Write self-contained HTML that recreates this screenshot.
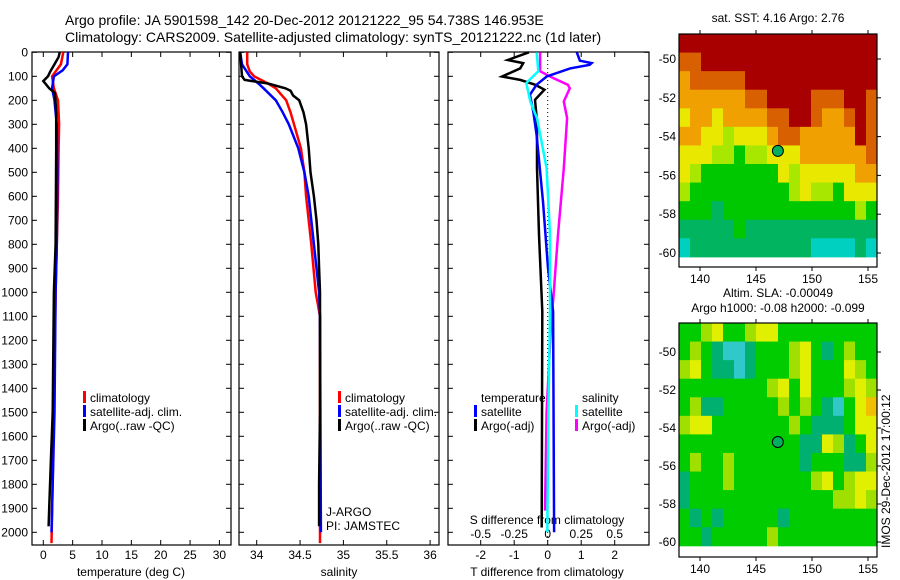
<!DOCTYPE html>
<html><head><meta charset="utf-8"><style>
body{margin:0;background:#fff}
svg{display:block;font-family:"Liberation Sans",sans-serif}
</style></head><body>
<svg id="c" width="900" height="580" viewBox="0 0 900 580">
<text x="65" y="25" font-size="14">Argo profile: JA 5901598_142 20-Dec-2012 20121222_95 54.738S 146.953E</text>
<text x="65" y="42" font-size="14">Climatology: CARS2009. Satellite-adjusted climatology: synTS_20121222.nc (1d later)</text>
</svg>
<script>
// ---- depth profile data ----
const tClimD=[0,50,100,150,200,300,400,600,800,1000,1500,2045];
const tClimV=[3.4,3.0,1.5,1.8,2.5,2.7,2.6,2.5,2.3,2.1,1.8,1.4];
const tSatD=[0,50,75,100,150,200,250,300,500,800,1000,1500,1800,2000];
const tSatV=[4.2,4.1,3.3,1.8,1.5,1.9,2.1,2.3,2.4,2.3,2.1,1.9,1.6,1.4];
const tArgoD=[0,20,50,80,100,120,150,170,250,400,800,1000,1500,1700,1900,1975];
const tArgoV=[2.8,2.6,1.9,1.2,0.8,0.0,1.0,2.0,2.2,2.2,2.1,1.8,1.6,1.3,1.0,0.9];
const sArgoD=[0,100,115,120,130,150,160,180,200,250,300,400,500,600,700,800,900,1000,1500,1800,1975];
const sArgoV=[33.81,33.83,33.86,33.95,34.13,34.33,34.39,34.42,34.49,34.54,34.57,34.6,34.62,34.66,34.69,34.71,34.72,34.73,34.73,34.72,34.72];
const sClimD=[0,50,80,100,130,150,200,250,300,400,500,600,800,1000,1100,2045];
const sClimV=[33.89,33.89,33.92,33.97,34.13,34.22,34.34,34.39,34.43,34.51,34.55,34.57,34.63,34.68,34.73,34.73];
const sSatD=[0,50,100,130,150,200,250,300,400,500,600,800,1000,1100,2000];
const sSatV=[33.81,33.83,33.92,34.02,34.08,34.22,34.3,34.37,34.48,34.55,34.6,34.66,34.72,34.73,34.74];
// panel 3 differences
const dTArgoD=[0,32,45,67,101,115,135,156,198,288,483,760,1080,1980];
const dTArgoV=[-0.56,-1.19,-0.73,-0.82,-1.36,-0.82,-0.38,-0.1,-0.38,-0.32,-0.32,-0.26,-0.16,-0.18];
const dTSatD=[0,35,45,52,67,101,135,177,247,344,622,899,1080,2000];
const dTSatV=[0.87,0.96,1.31,1.25,0.67,-0.03,-0.33,-0.53,-0.43,-0.33,-0.14,0.01,0.16,0.19];
const dSSatD=[0,79,128,205,274,483,760,1080,1500,2000];
const dSSatV=[-0.082,-0.07,-0.16,-0.13,-0.08,-0.008,0.017,0.017,0.005,-0.003];
const dSArgoD=[0,79,107,135,150,205,274,483,760,1038,1080,1500,1910];
const dSArgoV=[-0.057,-0.057,0.04,0.15,0.165,0.12,0.145,0.12,0.077,0.04,0.03,-0.008,-0.02];
const depthTicks=[0,100,200,300,400,500,600,700,800,900,1000,1100,1200,1300,1400,1500,1600,1700,1800,1900,2000];
const tTicks=[0,5,10,15,20,25,30];
const sTicks=[34,34.5,35,35.5,36];
const dTTicks=[-2,-1,0,1,2];
const dSTicks=[-0.5,-0.25,0,0.25,0.5];
// ---- maps: colour class grids (rows lat -49..-60, cols lon 138.5..155.5) ----
const sstGrid=[
[0,0,0,0,0,0,0,0,0,0,0,0,0,0,0,0,0,0],
[1,1,0,0,0,0,0,0,0,0,0,0,0,0,0,0,0,0],
[2,1,1,1,1,1,0,0,0,0,0,0,0,0,0,0,0,0],
[2,2,2,2,2,2,1,1,0,0,0,0,1,1,1,0,0,1],
[3,2,2,3,2,2,2,2,1,1,0,0,1,2,2,1,0,1],
[2,2,3,3,4,3,3,3,2,1,1,2,2,2,2,2,0,1],
[3,3,3,4,4,5,4,4,3,3,3,2,2,2,2,2,2,1],
[3,4,5,5,5,5,5,5,5,3,4,3,3,3,3,3,2,2],
[4,5,5,5,5,5,5,5,5,5,4,3,4,4,5,3,3,3],
[5,5,5,6,5,5,5,5,5,5,5,5,5,5,5,5,4,5],
[6,6,6,6,6,5,6,6,6,6,6,6,6,6,6,6,6,6],
[7,6,6,6,6,6,6,6,6,6,6,6,7,7,7,7,6,7]];
const slaGrid=[
[5,5,4,3,5,5,4,3,3,5,5,5,5,5,5,5,5,5],
[5,4,5,6,7,7,6,5,5,5,4,3,5,6,5,4,5,5],
[4,3,5,6,6,7,6,5,5,5,4,3,5,5,5,3,4,5],
[5,5,5,5,5,5,5,5,4,3,5,3,5,5,5,4,3,4],
[5,4,6,6,5,5,5,5,5,4,5,4,5,6,7,5,3,2],
[4,3,3,5,5,5,5,5,5,5,4,5,6,6,6,5,3,3],
[5,5,5,5,5,5,5,5,5,5,5,6,6,3,4,6,5,3],
[5,4,5,5,4,5,5,5,5,5,5,6,5,5,5,6,6,4],
[6,5,5,5,4,5,5,5,5,5,5,5,4,3,5,4,3,3],
[6,5,5,5,5,5,5,5,5,5,5,5,5,5,4,4,3,4],
[5,6,5,6,5,5,5,5,5,6,5,5,5,5,5,5,5,5],
[5,5,6,5,5,5,5,5,4,5,5,5,5,5,5,5,5,5]];
const lonTicks=[140,145,150,155];
const latTicks=[50,52,54,56,58,60];
const argoLon=146.953, argoLat=54.738;

const NS='http://www.w3.org/2000/svg', svg=document.getElementById('c');
function mk(tag,at,parent){const e=document.createElementNS(NS,tag);for(const k in at)e.setAttribute(k,at[k]);(parent||svg).appendChild(e);return e;}
const yD=d=>52.3+0.24*d;
const xT=v=>43.3+5.87*v, xS=v=>256.7+86.7*(v-34), xDT=v=>547.7+33.5*v, xDS=v=>547.7+134*v;
function line(D,V,fx,color,name){
  let pts=[];for(let i=0;i<D.length;i++)pts.push(fx(V[i]).toFixed(1)+','+yD(D[i]).toFixed(1));
  const p=mk('polyline',{points:pts.join(' '),fill:'none',stroke:color,'stroke-width':2.5});
  
  
}
function txt(x,y,s,opt){const t=mk('text',Object.assign({x:x,y:y,'font-size':12},opt||{}));t.textContent=s;return t;}
const panels=[[32,231],[239,439],[448,649]];
panels.forEach((p,i)=>{
  const r=mk('rect',{x:p[0],y:52,width:p[1]-p[0],height:493,fill:'none',stroke:'#000','stroke-width':1.2});
  
  
  depthTicks.forEach(d=>{mk('line',{x1:p[0],x2:p[0]+5,y1:yD(d),y2:yD(d),stroke:'#000'});mk('line',{x1:p[1]-5,x2:p[1],y1:yD(d),y2:yD(d),stroke:'#000'});});
});
depthTicks.forEach(d=>{const t=txt(28,yD(d)+4,String(d),{'text-anchor':'end'});});
function xticks(ticks,fx,fmt){ticks.forEach(v=>{const x=fx(v);mk('line',{x1:x,x2:x,y1:52,y2:57,stroke:'#000'});mk('line',{x1:x,x2:x,y1:540,y2:545,stroke:'#000'});const t=txt(x,559,fmt(v),{'text-anchor':'middle'});});}
xticks(tTicks,xT,String);xticks(sTicks,xS,String);xticks(dTTicks,xDT,String);
dSTicks.forEach(v=>{const t=txt(xDS(v),538,String(v).replace('0.','.').replace('-.','-0.').replace(/^\.5$/,'0.5').replace(/^\.25$/,'0.25'),{'text-anchor':'middle'});});
let t;
t=txt(131,576,'temperature (deg C)',{'text-anchor':'middle'});
t=txt(339,576,'salinity',{'text-anchor':'middle'});
t=txt(547,576,'T difference from climatology',{'text-anchor':'middle'});
t=txt(547,524,'S difference from climatology',{'text-anchor':'middle'});
mk('line',{x1:547.7,x2:547.7,y1:52,y2:545,stroke:'#000','stroke-dasharray':'1,3'});
line(tClimD,tClimV,xT,'#ff0000','temp-climatology-line');
line(tSatD,tSatV,xT,'#0000ff','temp-satellite-line');
line(tArgoD,tArgoV,xT,'#000000','temp-argo-line');
line(sClimD,sClimV,xS,'#ff0000','sal-climatology-line');
line(sSatD,sSatV,xS,'#0000ff','sal-satellite-line');
line(sArgoD,sArgoV,xS,'#000000','sal-argo-line');
line(dTArgoD,dTArgoV,xDT,'#000000','tdiff-argo-line');
line(dSArgoD,dSArgoV,xDS,'#ff00ff','sdiff-argo-line');
line(dTSatD,dTSatV,xDT,'#0000ff','tdiff-satellite-line');
line(dSSatD,dSSatV,xDS,'#00ffff','sdiff-satellite-line');
function legend(x,y,color,label){
  if(color){const m=mk('rect',{x:x-7,y:y-11,width:3,height:12,fill:color});}
  const t=txt(x,y,label,{'font-size':12});
}
[[90,'#ff0000','climatology'],[345,'#ff0000','climatology']].forEach(a=>legend(a[0],402,a[1],a[2]));
legend(90,416,'#0000ff','satellite-adj. clim.');legend(90,430,'#000','Argo(..raw -QC)');
legend(345,416,'#0000ff','satellite-adj. clim.');legend(345,430,'#000','Argo(..raw -QC)');
legend(481,402,null,'temperature');legend(481,416,'#0000ff','satellite');legend(481,430,'#000','Argo(-adj)');
legend(582,402,null,'salinity');legend(582,416,'#00ffff','satellite');legend(582,430,'#ff00ff','Argo(-adj)');
t=txt(326,516,'J-ARGO');
t=txt(326,530,'PI: JAMSTEC');
// ---- maps ----
const sstPal=['#a80000','#d86000','#f0a000','#e8e800','#a8e800','#00c800','#00b460','#00d0c0'];
const slaPal=['#a80000','#d86000','#f0c000','#e0f000','#a0e000','#00cc00','#00b070','#30c8c8'];
function map(top,bottom,latPx,lat50y,grid,pal,name,title1,title2){
  const g=mk('g',{});
  const L=679,R=877,dataBot=lat50y+10.2*latPx;
  const rows=grid.length,cols=grid[0].length,cw=(R-L)/cols,rh=(dataBot-top)/rows;
  grid.forEach((row,j)=>row.forEach((v,i)=>{mk('rect',{x:L+i*cw,y:top+j*rh,width:cw+0.5,height:rh+0.5,fill:pal[v]},g);}));
  mk('rect',{x:L,y:top,width:R-L,height:bottom-top,fill:'none',stroke:'#000','stroke-width':1.2},g);
  const xL=lon=>700+(lon-140)*11.2, yL=lat=>lat50y+(lat-50)*latPx;
  lonTicks.forEach(lon=>{mk('line',{x1:xL(lon),x2:xL(lon),y1:top-4,y2:top,stroke:'#000'},g);mk('line',{x1:xL(lon),x2:xL(lon),y1:bottom,y2:bottom+4,stroke:'#000'},g);const t=txt(xL(lon),bottom+16,String(lon),{'text-anchor':'middle'});});
  latTicks.forEach(lat=>{mk('line',{x1:R,x2:R+4,y1:yL(lat),y2:yL(lat),stroke:'#000'},g);const t=txt(676,yL(lat)+4,'-'+lat,{'text-anchor':'end'});});
  const c=mk('circle',{cx:xL(argoLon),cy:yL(argoLat),r:5.5,fill:'#00b060',stroke:'#000','stroke-width':1},g);
  
  let t1=txt(778,top-(title2?26:12),title1,{'text-anchor':'middle'});
  if(title2){let t2=txt(778,top-11,title2,{'text-anchor':'middle'});}
}
map(34,267,19.4,59,sstGrid,sstPal,'sst-map','sat. SST: 4.16 Argo: 2.76');
map(323,557,19.0,352,slaGrid,slaPal,'sla-map','Altim. SLA: -0.00049','Argo h1000: -0.08 h2000: -0.099');
t=txt(0,0,'IMOS 29-Dec-2012 17:00:12',{transform:'translate(890,548) rotate(-90)'});
</script>
</body></html>
